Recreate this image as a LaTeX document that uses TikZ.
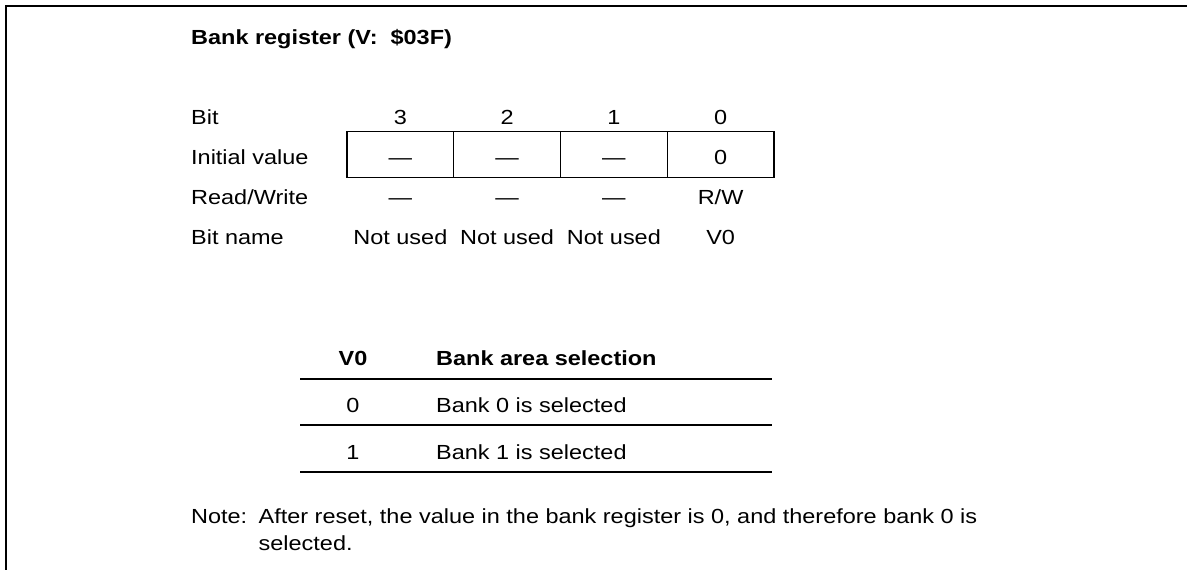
\documentclass[tikz,border=0pt]{standalone}
\usepackage{fontspec}
\setmainfont{Liberation Sans}[FakeStretch=1.15]
\newcommand\regfs{\fontsize{20.4}{24}\selectfont}
\begin{document}
\begin{tikzpicture}[x=1pt,y=-1pt,
  txt/.style={inner sep=0pt,anchor=base,font=\regfs},
  lbl/.style={txt,anchor=base west},
  bold/.style={font={\regfs\bfseries}},
  frame/.style={line width=1.5pt},
  reg/.style={line width=1.2pt},
  rule/.style={line width=1.8pt}]
\useasboundingbox (0,0) rectangle (1187,570);
% frame
\coordinate (ftl) at (6,6);
\coordinate (ftr) at (1187,6);
\coordinate (fbl) at (6,570);
\draw[frame] (ftr) -- (ftl) -- (fbl);
% title
\node[lbl,bold] (title) at (191,44) {Bank register (V:\ \ \$03F)};
% row labels
\node[lbl] (lbit) at (191,124) {Bit};
\node[lbl] (linit) at (191,164) {Initial value};
\node[lbl] (lrw) at (191,204) {Read/Write};
\node[lbl] (lname) at (191,244) {Bit name};
% register box
\draw[reg] (347,131.7) rectangle (774,177.3);
\foreach \xx in {453.75,560.5,667.25}
  \draw[reg] (\xx,131.7) -- (\xx,177.3);
% bit columns
\node[txt] (b3) at (400.4,124) {3};
\node[txt] (b2) at (507.1,124) {2};
\node[txt] (b1) at (613.9,124) {1};
\node[txt] (b0) at (720.6,124) {0};
\node[txt] (i3) at (400.4,164) {—};
\node[txt] (i2) at (507.1,164) {—};
\node[txt] (i1) at (613.9,164) {—};
\node[txt] (i0) at (720.6,164) {0};
\node[txt] (r3) at (400.4,204) {—};
\node[txt] (r2) at (507.1,204) {—};
\node[txt] (r1) at (613.9,204) {—};
\node[txt] (r0) at (720.6,204) {R/W};
\node[txt] (n3) at (400.4,244) {Not used};
\node[txt] (n2) at (507.1,244) {Not used};
\node[txt] (n1) at (613.9,244) {Not used};
\node[txt] (n0) at (720.6,244) {V0};
% selection table
\node[txt,bold] (hv) at (353,365) {V0};
\node[lbl,bold] (hs) at (436,365) {Bank area selection};
\draw[rule] (300,379) -- (772,379);
\node[txt] (v0) at (353,412) {0};
\node[lbl] (s0) at (436,412) {Bank 0 is selected};
\draw[rule] (300,425) -- (772,425);
\node[txt] (v1) at (353,459) {1};
\node[lbl] (s1) at (436,459) {Bank 1 is selected};
\draw[rule] (300,471.7) -- (772,471.7);
% note
\node[lbl] (note) at (191,523) {Note:};
\node[lbl] (note1) at (258.5,523) {After reset, the value in the bank register is 0, and therefore bank 0 is};
\node[lbl] (note2) at (258.5,550) {selected.};
\end{tikzpicture}
\end{document}
